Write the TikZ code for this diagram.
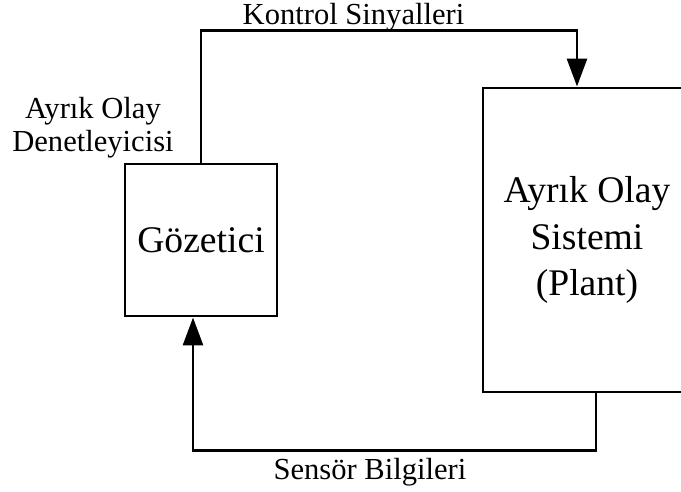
\documentclass[tikz,border=0pt]{standalone}
\usepackage{fontspec}
\setmainfont{Liberation Serif}
\usetikzlibrary{arrows.meta,positioning}

\tikzset{
  blok/.style={draw, line width=1.7pt, align=center, inner sep=0pt,
    font=\fontsize{21.4}{26.6}\selectfont},
  okucu/.style={-{Triangle[length=5.6mm,width=4mm]}},
}

\begin{document}
\begin{tikzpicture}[line width=1.7pt, font=\fontsize{17.4}{19.3}\selectfont]
  \clip (0,0) rectangle (13.62,9.84);
  % bloklar
  \node[blok, minimum width=3.04cm, minimum height=3.04cm] (gozetici) at (4.02,5.04) {Gözetici};
  \node[blok, minimum width=4.16cm, minimum height=6.08cm] (sistem) at (11.74,5.04) {Ayrık Olay\\Sistemi\\(Plant)};
  % kontrol ve geri besleme hatlari
  \draw[okucu] (gozetici.north) -- ++(0,2.64) -| ([xshift=-2mm]sistem.north);
  \draw[okucu] ([xshift=1.8mm]sistem.south) -- ++(0,-1.14) -| ([xshift=-1.6mm]gozetici.south);
  % etiketler
  \node[anchor=base] (kontrol) at (7.07,9.34) {Kontrol Sinyalleri};
  \node[anchor=base, align=center] (denetleyici) at (1.86,6.80) {Ayrık Olay\\Denetleyicisi};
  \node[anchor=base] (sensor) at (7.40,0.26) {Sensör Bilgileri};
\end{tikzpicture}
\end{document}
